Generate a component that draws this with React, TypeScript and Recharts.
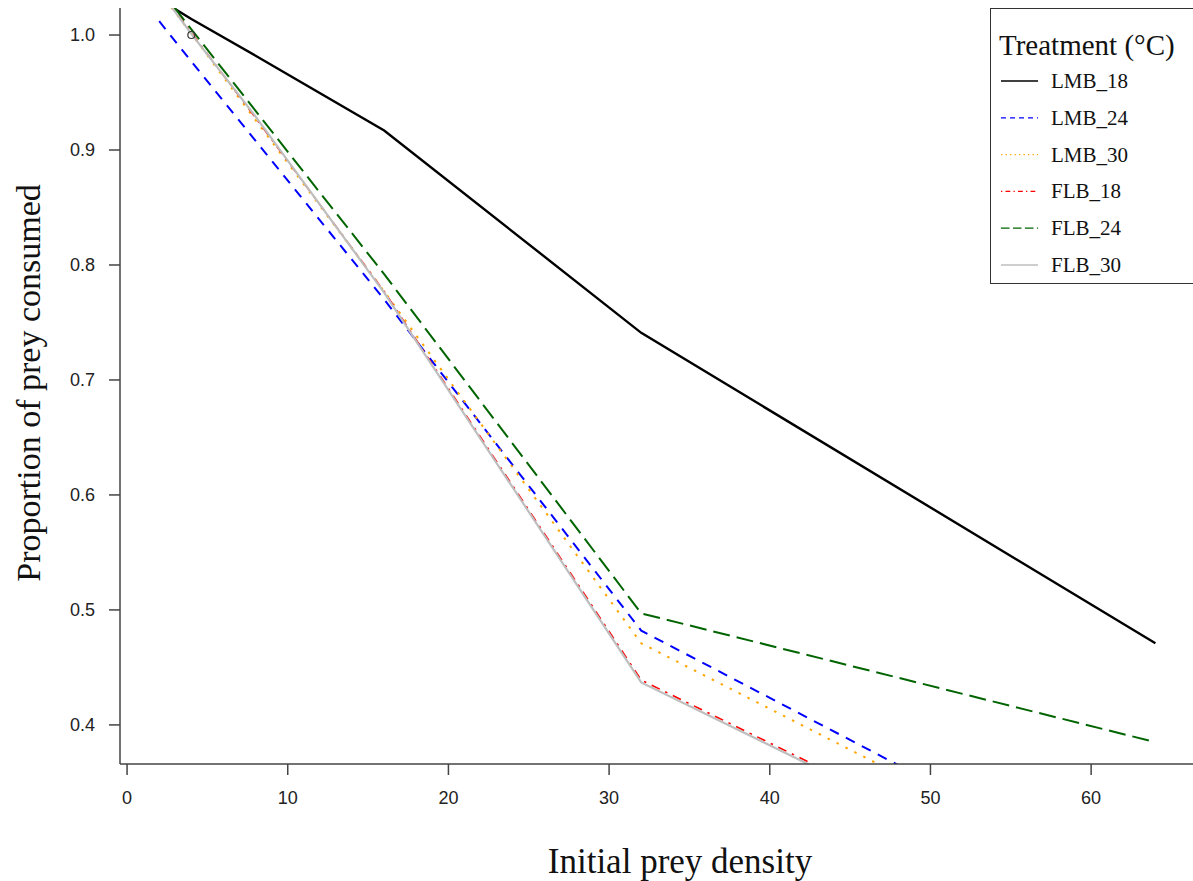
import { ComposedChart, Line, Scatter, XAxis, YAxis, Legend } from "recharts";

// initial prey density at which each curve was evaluated
const density = [2, 4, 8, 16, 32, 64];

// proportion of prey consumed
const lmb18 = [1.031, 1.014, 0.982, 0.917, 0.741, 0.471];
const lmb24 = [1.012, 0.977, 0.908, 0.77, 0.482, 0.248];
const lmb30 = [1.038, 1.001, 0.926, 0.777, 0.471, 0.243];
const flb18 = [1.04, 1.002, 0.928, 0.777, 0.439, 0.22];
const flb24 = [1.041, 1.005, 0.934, 0.792, 0.497, 0.385];
const flb30 = [1.039, 1.001, 0.929, 0.776, 0.437, 0.218];

const strayPoint = [{ x: 4, y: 1.0 }];

const xTicks = [0, 10, 20, 30, 40, 50, 60];
const yTicks = [0.4, 0.5, 0.6, 0.7, 0.8, 0.9, 1.0];

const series = [
  { key: "LMB_18", values: lmb18, color: "#000000", width: 2.4, dash: undefined, legendDash: undefined },
  { key: "LMB_24", values: lmb24, color: "#0000ff", width: 2, dash: "10 8", legendDash: "5 4" },
  { key: "LMB_30", values: lmb30, color: "#ffa500", width: 2, dash: "2.5 7.5", legendDash: "1.3 3.2" },
  { key: "FLB_18", values: flb18, color: "#ff0000", width: 1.6, dash: "2.5 6 9 6", legendDash: "1.3 3.2 4.8 3.2" },
  { key: "FLB_24", values: flb24, color: "#006400", width: 2, dash: "17 7", legendDash: "8.5 3.5" },
  { key: "FLB_30", values: flb30, color: "#bebebe", width: 2.2, dash: undefined, legendDash: undefined },
];

const data = density.map((x, i) => {
  const row: Record<string, number> = { x };
  series.forEach((s) => {
    row[s.key] = s.values[i];
  });
  return row;
});

const serif = "'Liberation Serif', 'Times New Roman', serif";
const sans = "'Liberation Sans', Arial, sans-serif";
const axisColor = "#444";

const LegendBox = () => (
  <div
    style={{
      width: 220,
      height: 276,
      boxSizing: "border-box",
      border: "1.5px solid #333",
      background: "#fff",
      fontFamily: serif,
      color: "#111",
    }}
  >
    <svg width={220} height={276}>
      <text x={8} y={46} fontSize={29} fontFamily={serif} fill="#111">
        Treatment (°C)
      </text>
      {series.map((s, i) => {
        const y = 72 + i * 36.8;
        return (
          <g key={s.key}>
            <line
              x1={10}
              x2={47}
              y1={y}
              y2={y}
              stroke={s.color}
              strokeWidth={1.3}
              strokeDasharray={s.legendDash}
            />
            <text x={60} y={y + 7} fontSize={21} fontFamily={serif} fill="#111">
              {s.key}
            </text>
          </g>
        );
      })}
    </svg>
  </div>
);

export default function App() {
  return (
    <div style={{ position: "absolute", left: 0, top: 0, background: "#fff" }}>
      <ComposedChart
        width={1193}
        height={881}
        data={data}
        margin={{ top: 8, right: 0, bottom: 0, left: 0 }}
      >
        <XAxis
          xAxisId="top"
          orientation="top"
          type="number"
          dataKey="x"
          domain={[-0.44, 66.34]}
          allowDataOverflow
          height={0}
          tick={false}
          tickLine={false}
          axisLine={{ stroke: axisColor, strokeWidth: 1.5 }}
        />
        <XAxis
          type="number"
          dataKey="x"
          domain={[-0.44, 66.34]}
          allowDataOverflow
          ticks={xTicks}
          height={117}
          tickSize={11}
          tickMargin={16}
          axisLine={{ stroke: axisColor, strokeWidth: 1.5 }}
          tickLine={{ stroke: axisColor, strokeWidth: 1.5 }}
          tick={{ fill: "#222", fontSize: 18, fontFamily: sans }}
          label={{
            content: () => (
              <text x={680} y={873} textAnchor="middle" fontSize={35} fontFamily={serif} fill="#111">
                Initial prey density
              </text>
            ),
          }}
        />
        <YAxis
          type="number"
          domain={[0.366, 1.0235]}
          allowDataOverflow
          ticks={yTicks}
          width={120}
          tickSize={11}
          tickMargin={14}
          tickFormatter={(v: number) => v.toFixed(1)}
          axisLine={{ stroke: axisColor, strokeWidth: 1.5 }}
          tickLine={{ stroke: axisColor, strokeWidth: 1.5 }}
          tick={{ fill: "#222", fontSize: 18, fontFamily: sans }}
          label={{
            content: () => (
              <text
                x={40}
                y={383}
                transform="rotate(-90 40 383)"
                textAnchor="middle"
                fontSize={34}
                fontFamily={serif}
                fill="#111"
              >
                Proportion of prey consumed
              </text>
            ),
          }}
        />
        {series.map((s) => (
          <Line
            key={s.key}
            type="linear"
            dataKey={s.key}
            stroke={s.color}
            strokeWidth={s.width}
            strokeDasharray={s.dash}
            dot={false}
            activeDot={false}
            isAnimationActive={false}
          />
        ))}
        <Scatter
          data={strayPoint}
          dataKey="y"
          isAnimationActive={false}
          shape={(p: any) => (
            <circle cx={p.cx} cy={p.cy} r={3.5} fill="none" stroke="#333" strokeWidth={1.2} />
          )}
        />
        <Legend
          layout="vertical"
          align="center"
          verticalAlign="middle"
          content={() => <LegendBox />}
          wrapperStyle={{ left: 990, top: 8, width: 220, height: 276, right: "auto", bottom: "auto" }}
        />
      </ComposedChart>
    </div>
  );
}
